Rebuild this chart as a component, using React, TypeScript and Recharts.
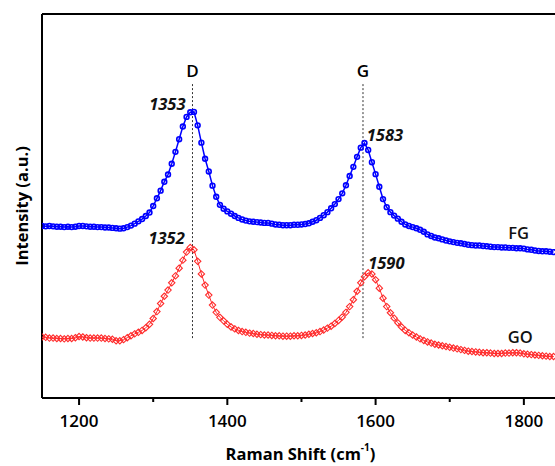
import { LineChart, Line, XAxis, YAxis, ReferenceLine, ReferenceDot } from "recharts";

// Raman spectra sampled every 5 cm-1 from 1150 cm-1
const shiftStart = 1150;
const shiftStep = 5;

const fgIntensity = [
  44.8, 44.7, 44.8, 44.7, 44.6, 44.6, 44.5, 44.6, 44.5, 44.6,
  44.8, 44.8, 44.7, 44.6, 44.6, 44.5, 44.5, 44.4, 44.4, 44.3,
  44.2, 44.1, 44.2, 44.5, 44.9, 45.4, 46.0, 46.6, 47.4, 48.3,
  50.0, 52.0, 54.0, 56.3, 58.2, 61.0, 64.1, 67.4, 70.7, 73.2,
  74.4, 74.5, 71.0, 66.5, 62.3, 59.0, 55.3, 52.4, 50.3, 49.3,
  48.6, 48.0, 47.4, 46.9, 46.5, 46.2, 46.0, 45.9, 45.8, 45.7,
  45.6, 45.6, 45.4, 45.2, 45.1, 45.0, 45.0, 45.0, 45.1, 45.1,
  45.2, 45.3, 45.5, 45.9, 46.3, 46.9, 47.6, 48.4, 49.4, 50.5,
  51.8, 53.3, 55.4, 57.8, 60.2, 62.8, 65.2, 66.4, 64.6, 61.4,
  58.3, 55.0, 51.8, 49.7, 48.4, 47.5, 46.7, 45.9, 45.2, 44.8,
  44.5, 44.2, 43.8, 43.3, 42.6, 42.2, 41.8, 41.6, 41.3, 41.0,
  40.8, 40.6, 40.4, 40.3, 40.1, 39.9, 39.8, 39.7, 39.7, 39.6,
  39.5, 39.4, 39.3, 39.3, 39.2, 39.2, 39.1, 39.1, 39.0, 39.0,
  38.9, 38.7, 38.6, 38.4, 38.3, 38.2, 38.2, 38.1, 38.0,
];

const goIntensity = [
  15.9, 15.8, 15.6, 15.6, 15.5, 15.5, 15.4, 15.5, 15.5, 15.7,
  16.0, 15.9, 15.7, 15.6, 15.6, 15.6, 15.6, 15.5, 15.4, 15.3,
  14.9, 14.9, 15.2, 15.7, 16.2, 16.7, 17.1, 17.6, 18.3, 19.2,
  20.7, 22.5, 24.6, 26.5, 28.1, 30.0, 31.8, 33.8, 35.9, 38.0,
  39.2, 38.6, 35.6, 32.3, 29.4, 26.8, 24.2, 22.3, 21.0, 20.1,
  19.2, 18.5, 18.0, 17.6, 17.3, 17.1, 16.9, 16.8, 16.6, 16.5,
  16.4, 16.4, 16.3, 16.2, 16.2, 16.1, 16.1, 16.1, 16.2, 16.2,
  16.3, 16.4, 16.6, 16.8, 17.0, 17.3, 17.7, 18.2, 18.7, 19.4,
  20.2, 21.1, 22.3, 23.8, 25.6, 27.8, 30.0, 31.6, 32.6, 32.3,
  30.8, 28.6, 26.0, 23.8, 22.2, 20.8, 19.6, 18.5, 17.6, 17.0,
  16.4, 15.9, 15.4, 15.0, 14.6, 14.3, 14.0, 13.8, 13.6, 13.4,
  13.2, 13.0, 12.8, 12.6, 12.4, 12.2, 12.1, 12.0, 11.9, 11.8,
  11.8, 11.7, 11.6, 11.6, 11.6, 11.7, 11.7, 11.8, 11.8, 11.7,
  11.5, 11.4, 11.3, 11.2, 11.1, 11.0, 10.9, 10.8, 10.8,
];

const majorTicks = [1200, 1400, 1600, 1800];
const allTicks = [1200, 1300, 1400, 1500, 1600, 1700, 1800];

// band positions and peak labels
const bands = [
  { name: "D", shift: 1353 },
  { name: "G", shift: 1583 },
];
const peaks = [
  { text: "1353", shift: 1353, value: 74.6, dx: -7, dy: -8, anchor: "end" },
  { text: "1583", shift: 1584, value: 66.4, dx: 3, dy: -9, anchor: "start" },
  { text: "1352", shift: 1352, value: 39.4, dx: -7, dy: -9, anchor: "end" },
  { text: "1590", shift: 1590, value: 32.6, dx: 0, dy: -10, anchor: "start" },
];
const seriesNames = [
  { text: "FG", shift: 1793, value: 43.0 },
  { text: "GO", shift: 1795, value: 15.9 },
];

const data = fgIntensity.map((fg, i) => ({
  shift: shiftStart + i * shiftStep,
  fg,
  go: goIntensity[i],
}));

const FONT = "'Open Sans', sans-serif";

function ShiftTick(props: any) {
  const { x, y, payload } = props;
  const major = majorTicks.includes(payload.value);
  return (
    <g>
      <rect x={x - 1} y={y} width={2} height={major ? 7 : 4} fill="#000" />
      {major && (
        <text x={x} y={y + 22} textAnchor="middle" dominantBaseline="central"
          fontFamily={FONT} fontSize={17} fontWeight={600} fill="#000">
          {payload.value}
        </text>
      )}
    </g>
  );
}

function XTitle(props: any) {
  const { viewBox } = props;
  return (
    <text x={viewBox.x + viewBox.width / 2 + 2} y={viewBox.y + 55} textAnchor="middle"
      dominantBaseline="central" fontFamily={FONT} fontSize={16.5} fontWeight={700} fill="#000">
      Raman Shift (cm
      <tspan dy={-6} fontSize={10}>-1</tspan>
      <tspan dy={6}>)</tspan>
    </text>
  );
}

function YTitle(props: any) {
  const { viewBox } = props;
  const cx = viewBox.x - 20;
  const cy = viewBox.y + viewBox.height / 2;
  return (
    <text x={cx} y={cy} textAnchor="middle" dominantBaseline="central"
      transform={`rotate(-90, ${cx}, ${cy})`}
      fontFamily={FONT} fontSize={16.5} fontWeight={700} fill="#000">
      Intensity (a.u.)
    </text>
  );
}

function BandLabel(props: any) {
  const { viewBox, text } = props;
  return (
    <text x={viewBox.x} y={viewBox.y - 13} textAnchor="middle" dominantBaseline="central"
      fontFamily={FONT} fontSize={17} fontWeight={600} fill="#000">
      {text}
    </text>
  );
}

function PeakText(props: any) {
  const { viewBox, text, dx, dy, anchor, italic } = props;
  const cx = viewBox.x + viewBox.width / 2;
  const cy = viewBox.y + viewBox.height / 2;
  return (
    <text x={cx + dx} y={cy + dy} textAnchor={anchor} dominantBaseline="central"
      fontFamily={FONT} fontSize={16.5} fontWeight={italic ? 700 : 600}
      fontStyle={italic ? "italic" : "normal"} fill="#111">
      {text}
    </text>
  );
}

function CircleDot(props: any) {
  const { cx, cy, index } = props;
  return <circle key={`fg-${index}`} cx={cx} cy={cy} r={2.4} fill="none" stroke="#0000ff" strokeWidth={1.6} />;
}

function DiamondDot(props: any) {
  const { cx, cy, index } = props;
  const s = 3.2;
  return (
    <path key={`go-${index}`} d={`M${cx},${cy - s}L${cx + s},${cy}L${cx},${cy + s}L${cx - s},${cy}Z`}
      fill="none" stroke="#ff2a2a" strokeWidth={1.1} />
  );
}

const hidden = () => <g />;

export default function App() {
  return (
    <div style={{ position: "absolute", left: 0, top: 0, background: "#fff" }}>
      <LineChart width={555} height={466} data={data} margin={{ top: 14, right: 0, bottom: 0, left: 41 }}>
        <XAxis type="number" dataKey="shift" domain={[1150, 1842]} allowDataOverflow ticks={allTicks}
          interval={0} tick={<ShiftTick />} tickLine={false} tickSize={0} tickMargin={0} height={68}
          axisLine={{ stroke: "#000", strokeWidth: 2 }} label={<XTitle />} />
        <YAxis type="number" domain={[0, 100]} allowDataOverflow width={1} tick={false} tickLine={false}
          tickSize={0} axisLine={{ stroke: "#000", strokeWidth: 2 }} label={<YTitle />} />
        <ReferenceLine y={100} stroke="#000" strokeWidth={2} />
        {bands.map((b) => (
          <ReferenceLine key={b.name} segment={[{ x: b.shift, y: 15.6 }, { x: b.shift, y: 82 }]}
            stroke="#333" strokeWidth={1} strokeDasharray="2 2" label={<BandLabel text={b.name} />} />
        ))}
        <Line type="linear" dataKey="go" stroke="#ff2a2a" strokeWidth={1} dot={<DiamondDot />}
          activeDot={false} isAnimationActive={false} />
        <Line type="linear" dataKey="fg" stroke="#0000ff" strokeWidth={1.5} dot={<CircleDot />}
          activeDot={false} isAnimationActive={false} />
        {peaks.map((p) => (
          <ReferenceDot key={p.text} x={p.shift} y={p.value} r={0} shape={hidden}
            label={<PeakText text={p.text} dx={p.dx} dy={p.dy} anchor={p.anchor} italic />} />
        ))}
        {seriesNames.map((s) => (
          <ReferenceDot key={s.text} x={s.shift} y={s.value} r={0} shape={hidden}
            label={<PeakText text={s.text} dx={0} dy={0} anchor="middle" />} />
        ))}
      </LineChart>
    </div>
  );
}
